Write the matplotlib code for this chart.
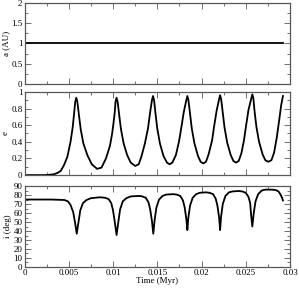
import matplotlib
matplotlib.use("Agg")
import matplotlib.pyplot as plt
from matplotlib.ticker import MultipleLocator, FormatStrFormatter

plt.rcParams['font.family'] = ['Liberation Serif', 'DejaVu Serif']
plt.rcParams['font.size'] = 6.5

# semi-major axis (constant)
t_a = [0.0, 0.0292]
semi = [1.0, 1.0]

# eccentricity
t_e = [0.0, 0.0015, 0.0022, 0.0028, 0.00333, 0.0037, 0.00409, 0.00446, 0.00484,
       0.0052, 0.00545, 0.0056, 0.00573, 0.00585, 0.00597, 0.00615, 0.00635,
       0.00665, 0.0071, 0.0076, 0.0082, 0.0087,
       0.0092, 0.00965, 0.0099, 0.01005, 0.0102, 0.01028, 0.0104, 0.01052, 0.0107,
       0.0109, 0.0112, 0.0116, 0.012, 0.0125, 0.0129,
       0.0132, 0.0136, 0.01395, 0.0142, 0.0144, 0.01452, 0.01464, 0.0148,
       0.015, 0.0153, 0.0157, 0.0161, 0.0164, 0.0167,
       0.0171, 0.01745, 0.0177, 0.018, 0.01828, 0.0184, 0.01852, 0.0187,
       0.0189, 0.0192, 0.0196, 0.0199, 0.0202, 0.0205,
       0.0208, 0.0212, 0.0214, 0.0217, 0.02198, 0.0221, 0.02222, 0.0224,
       0.0226, 0.0229, 0.0233, 0.0236, 0.0239, 0.0242,
       0.0245, 0.0248, 0.025, 0.0253, 0.02562, 0.02574, 0.02586, 0.026,
       0.0262, 0.0265, 0.0269, 0.0272, 0.02755, 0.0279,
       0.0282, 0.0285, 0.0288, 0.029, 0.0292]
ecc = [0.0, 0.0, 0.0, 0.004, 0.01, 0.025, 0.05, 0.12, 0.22,
       0.4, 0.58, 0.74, 0.88, 0.93, 0.88, 0.72, 0.55,
       0.38, 0.24, 0.13, 0.075, 0.09,
       0.2, 0.35, 0.5, 0.62, 0.76, 0.88, 0.93, 0.88, 0.72,
       0.55, 0.38, 0.24, 0.15, 0.11, 0.13,
       0.22, 0.38, 0.56, 0.76, 0.9, 0.95, 0.9, 0.74,
       0.56, 0.38, 0.23, 0.15, 0.13, 0.15,
       0.24, 0.4, 0.56, 0.76, 0.9, 0.95, 0.9, 0.74,
       0.56, 0.38, 0.23, 0.16, 0.14, 0.16,
       0.25, 0.42, 0.57, 0.77, 0.91, 0.96, 0.91, 0.75,
       0.57, 0.39, 0.24, 0.17, 0.15, 0.17,
       0.26, 0.42, 0.57, 0.78, 0.92, 0.97, 0.92, 0.76,
       0.58, 0.4, 0.25, 0.18, 0.16, 0.18,
       0.27, 0.45, 0.68, 0.84, 0.95]

# inclination
t_i = [0.0, 0.003, 0.0045, 0.0049, 0.0052, 0.0055, 0.0057, 0.0059, 0.0061, 0.0063,
       0.0066, 0.007, 0.0075, 0.0085,
       0.0091, 0.0095, 0.0098, 0.0100, 0.0102, 0.0104, 0.0106, 0.0108,
       0.0111, 0.0115, 0.012, 0.013,
       0.0133, 0.0137, 0.0140, 0.0142, 0.0144, 0.01455, 0.0147, 0.0149,
       0.0152, 0.0156, 0.016, 0.0168,
       0.0172, 0.0176, 0.0179, 0.0181, 0.0183, 0.0184, 0.0185, 0.0187,
       0.019, 0.0194, 0.0198, 0.0205,
       0.0209, 0.0213, 0.0216, 0.0218, 0.022, 0.0221, 0.0222, 0.0224,
       0.0227, 0.0231, 0.0235, 0.0242,
       0.0246, 0.0250, 0.0253, 0.0255, 0.0256, 0.02574, 0.0259, 0.0261,
       0.0264, 0.0268, 0.0272, 0.028,
       0.0284, 0.0287, 0.0289, 0.0291, 0.0292]
incl = [75, 75, 74.5, 73, 69, 61, 50, 37, 50, 63,
        71, 74.5, 76.5, 77.5,
        77, 75.5, 71, 63, 50, 35.5, 50, 64,
        73, 76.5, 78.5, 79,
        78.5, 77, 72, 64, 51, 37, 52, 66,
        75, 79, 80.5, 81,
        80.5, 79, 74, 66, 52, 41, 54, 68,
        77, 81, 82.5, 83,
        82.5, 81, 76, 68, 54, 41, 55, 70,
        79, 83, 84, 84.5,
        84, 82.5, 78, 71, 58, 45, 60, 73,
        81, 85, 86, 86,
        85.5, 84, 81, 77, 74]

fig = plt.figure(figsize=(2.99, 2.88), dpi=100)
ax1 = fig.add_axes([0.082, 0.708, 0.888, 0.282])
ax2 = fig.add_axes([0.082, 0.392, 0.888, 0.289])
ax3 = fig.add_axes([0.082, 0.073, 0.888, 0.281])

ax1.plot(t_a, semi, color='black', lw=1.3)
ax2.plot(t_e, ecc, color='black', lw=1.3)
ax3.plot(t_i, incl, color='black', lw=1.3)

ax1.set_ylim(0, 2)
ax1.yaxis.set_major_locator(MultipleLocator(0.5))
ax1.yaxis.set_minor_locator(MultipleLocator(0.25))
ax1.yaxis.set_major_formatter(FormatStrFormatter('%g'))
ax1.set_ylabel('a (AU)')

ax2.set_ylim(0, 1)
ax2.yaxis.set_major_locator(MultipleLocator(0.2))
ax2.yaxis.set_minor_locator(MultipleLocator(0.1))
ax2.yaxis.set_major_formatter(FormatStrFormatter('%g'))
ax2.set_ylabel('e')

ax3.set_ylim(0, 90)
ax3.yaxis.set_major_locator(MultipleLocator(10))
ax3.yaxis.set_minor_locator(MultipleLocator(5))
ax3.set_ylabel('i (deg)')
ax3.set_xlabel('Time (Myr)', labelpad=0)

for ax in (ax1, ax2, ax3):
    ax.set_xlim(0, 0.03)
    ax.xaxis.set_major_locator(MultipleLocator(0.005))
    ax.xaxis.set_minor_locator(MultipleLocator(0.0025))
    ax.xaxis.set_major_formatter(FormatStrFormatter('%g'))
    ax.tick_params(which='both', direction='in', top=True, right=True,
                   width=0.6, color='0.35', pad=1.5)
    ax.tick_params(which='major', length=4)
    ax.tick_params(which='minor', length=2)
    ax.yaxis.labelpad = 1
    for s in ax.spines.values():
        s.set_linewidth(0.9)
        s.set_color('0.35')

ax1.tick_params(labelbottom=False)
ax2.tick_params(labelbottom=False)

fig.savefig('out.png', dpi=100)
